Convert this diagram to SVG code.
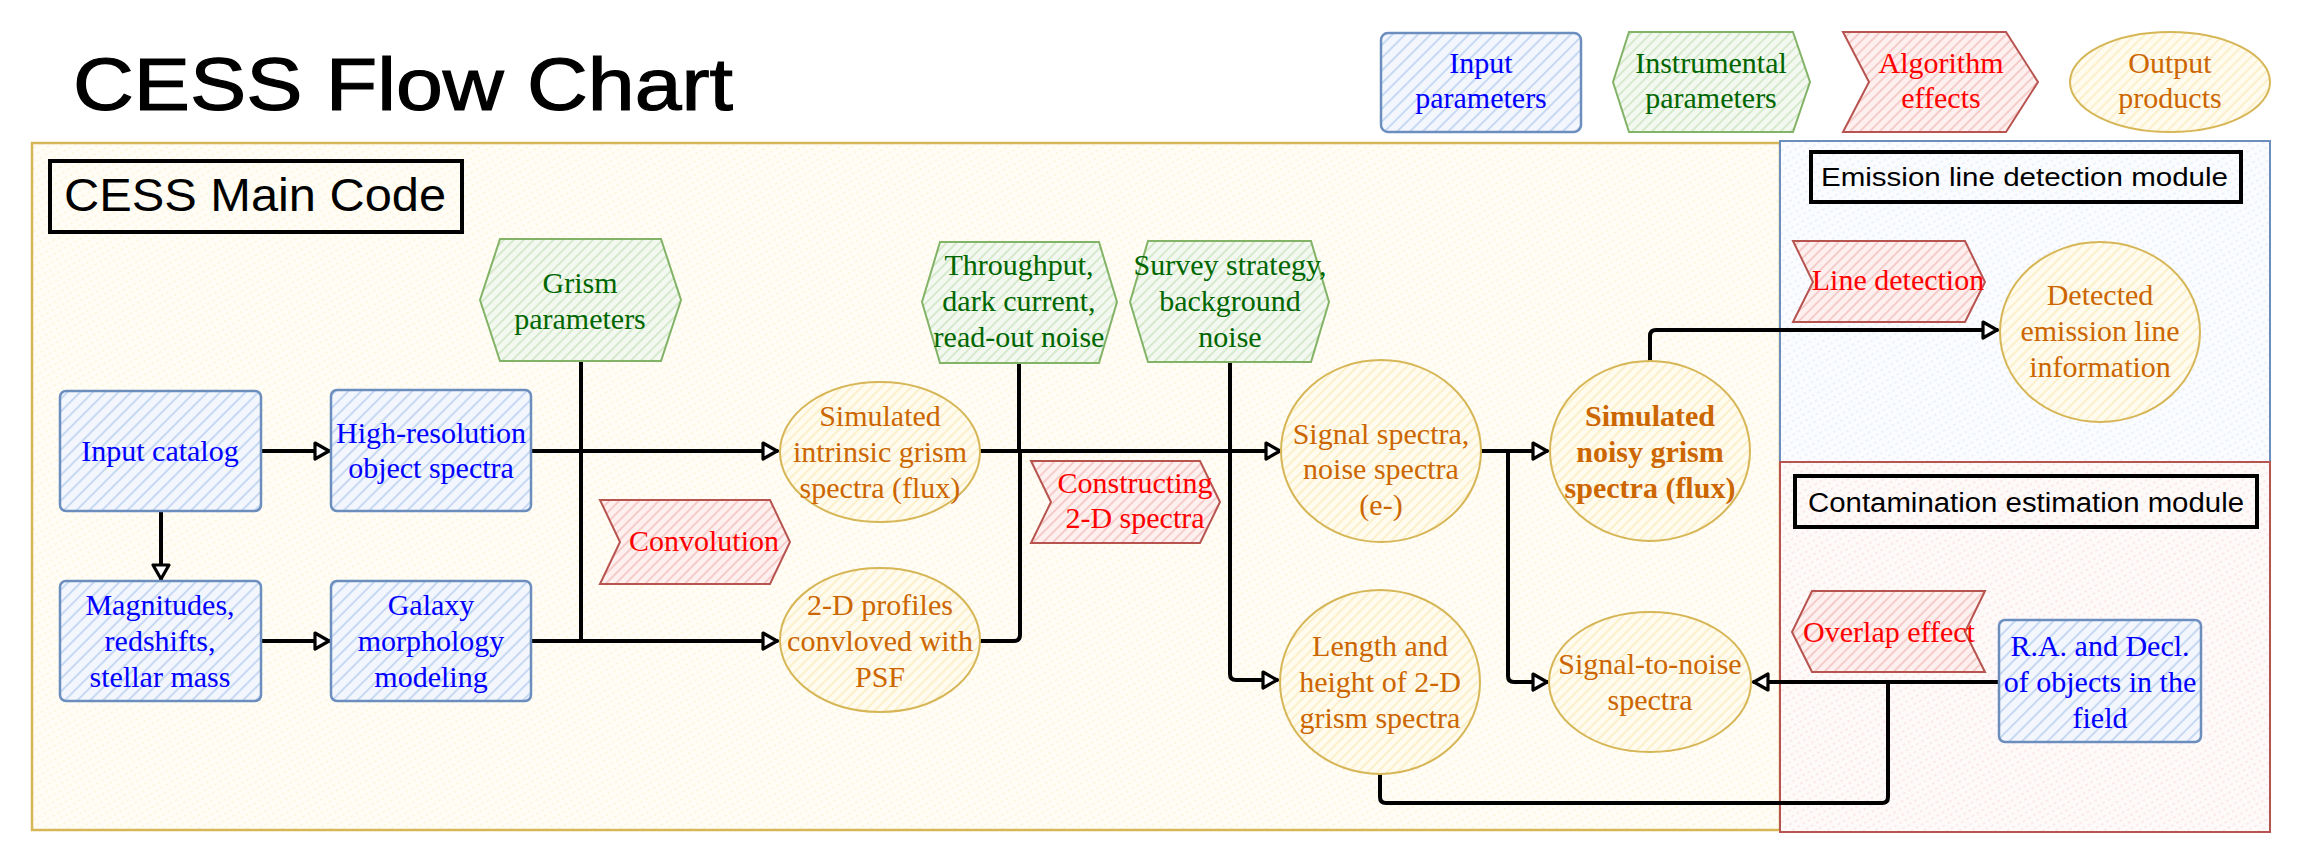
<svg xmlns="http://www.w3.org/2000/svg" width="2302" height="862" viewBox="0 0 2302 862">
<defs>
<style>
.t{font-family:"Liberation Serif","Times New Roman",serif;font-size:30px;text-anchor:middle}
.tb{fill:#0000ff}.tg{fill:#006600}.tr{fill:#ff0000}.to{fill:#cc6600}
.bold{font-weight:bold}
.hand{font-family:"Liberation Sans",Arial,sans-serif;fill:#000}
.nb{fill:url(#hB);stroke:#6c8ebf;stroke-width:2.5}
.ng{fill:url(#hG);stroke:#82b366;stroke-width:2}
.nr{fill:url(#hR);stroke:#b85450;stroke-width:2}
.no{fill:url(#hO);stroke:#d6b656;stroke-width:2}
.lbl{fill:none;stroke:#000;stroke-width:4}
.c{fill:none;stroke:#000;stroke-width:4;stroke-linejoin:round;stroke-linecap:round}
.ca{marker-end:url(#arr)}
</style>
<pattern id="hB" width="9" height="9" patternUnits="userSpaceOnUse" patternTransform="rotate(45)"><rect width="9" height="9" fill="#f3f7fd"/><line x1="1" y1="0" x2="1" y2="9" stroke="#b3cbee" stroke-width="1.4"/></pattern>
<pattern id="hG" width="7" height="7" patternUnits="userSpaceOnUse" patternTransform="rotate(45)"><rect width="7" height="7" fill="#f3f9f1"/><line x1="1" y1="0" x2="1" y2="7" stroke="#c3dfb5" stroke-width="1.2"/></pattern>
<pattern id="hR" width="7" height="7" patternUnits="userSpaceOnUse" patternTransform="rotate(45)"><rect width="7" height="7" fill="#fdf0ef"/><line x1="1" y1="0" x2="1" y2="7" stroke="#f2b4b1" stroke-width="1.2"/></pattern>
<pattern id="hO" width="7" height="7" patternUnits="userSpaceOnUse" patternTransform="rotate(45)"><rect width="7" height="7" fill="#fffbee"/><line x1="1" y1="0" x2="1" y2="7" stroke="#fbe9b4" stroke-width="1.2"/></pattern>
<pattern id="hY" width="6" height="6" patternUnits="userSpaceOnUse" patternTransform="rotate(60)"><rect width="6" height="6" fill="#fffdf5"/><line x1="1" y1="0" x2="1" y2="3" stroke="#fbf0cf" stroke-width="1"/></pattern>
<pattern id="hBl" width="6" height="6" patternUnits="userSpaceOnUse" patternTransform="rotate(60)"><rect width="6" height="6" fill="#fbfcff"/><line x1="1" y1="0" x2="1" y2="3" stroke="#dfe8f6" stroke-width="1"/></pattern>
<pattern id="hRl" width="6" height="6" patternUnits="userSpaceOnUse" patternTransform="rotate(60)"><rect width="6" height="6" fill="#fffafa"/><line x1="1" y1="0" x2="1" y2="3" stroke="#f6dcdb" stroke-width="1"/></pattern>
<marker id="arr" markerUnits="userSpaceOnUse" markerWidth="24" markerHeight="24" refX="18" refY="12" orient="auto"><path d="M4,4 L18,12 L4,20 Z" fill="#fff" stroke="#000" stroke-width="3.2" stroke-linejoin="round"/></marker>
</defs>
<rect width="2302" height="862" fill="#ffffff"/>

<!-- Title -->
<g id="title"><text class="hand" x="73" y="110" font-size="74" textLength="660" lengthAdjust="spacingAndGlyphs" stroke="#000" stroke-width="1.2">CESS Flow Chart</text></g>

<!-- Legend -->
<g id="legend-input"><rect class="nb" x="1381" y="33" width="200" height="99" rx="7"/><text class="t tb" x="1481" y="73">Input</text><text class="t tb" x="1481" y="108">parameters</text></g>
<g id="legend-instrumental"><polygon class="ng" points="1629,32 1793,32 1810,82 1793,132 1629,132 1613,82"/><text class="t tg" x="1711" y="73">Instrumental</text><text class="t tg" x="1711" y="108">parameters</text></g>
<g id="legend-algorithm"><polygon class="nr" points="1843,32 2006,32 2038,82 2006,132 1843,132 1869,82"/><text class="t tr" x="1941" y="73">Algorithm</text><text class="t tr" x="1941" y="108">effects</text></g>
<g id="legend-output"><ellipse class="no" cx="2170" cy="82" rx="100" ry="50"/><text class="t to" x="2170" y="73">Output</text><text class="t to" x="2170" y="108">products</text></g>

<!-- Containers -->
<g id="main-container"><rect x="32" y="143" width="1748" height="687" fill="url(#hY)" stroke="#d6b656" stroke-width="2.5"/></g>
<g id="emission-module"><rect x="1780" y="141" width="490" height="321" fill="url(#hBl)" stroke="#6c8ebf" stroke-width="2"/></g>
<g id="contamination-module"><rect x="1780" y="462" width="490" height="370" fill="url(#hRl)" stroke="#b85450" stroke-width="2"/></g>

<g id="label-main"><rect class="lbl" x="50" y="161" width="412" height="71" fill="#fffdf5"/><text class="hand" x="64" y="211" font-size="46" textLength="382" lengthAdjust="spacingAndGlyphs">CESS Main Code</text></g>
<g id="label-emission"><rect class="lbl" x="1811" y="152" width="430" height="50" fill="#fbfcff"/><text class="hand" x="1821" y="186" font-size="26" textLength="407" lengthAdjust="spacingAndGlyphs">Emission line detection module</text></g>
<g id="label-contamination"><rect class="lbl" x="1795" y="476" width="462" height="51" fill="#fffafa"/><text class="hand" x="1808" y="512" font-size="27" textLength="436" lengthAdjust="spacingAndGlyphs">Contamination estimation module</text></g>

<!-- Connectors -->
<g id="connectors">
<path class="c ca" d="M261,451 H329"/>
<path class="c ca" d="M161,511 V579"/>
<path class="c ca" d="M261,641 H329"/>
<path class="c" d="M581,361 V641"/>
<path class="c ca" d="M531,451 H777"/>
<path class="c ca" d="M531,641 H777"/>
<path class="c ca" d="M981,451 H1280"/>
<path class="c" d="M1019,363 V451"/>
<path class="c" d="M979,641 H1014 Q1020,641 1020,635 V451"/>
<path class="c ca" d="M1230,362 V674 Q1230,680 1236,680 H1277"/>
<path class="c ca" d="M1481,451 H1547"/>
<path class="c ca" d="M1508,451 V676 Q1508,682 1514,682 H1547"/>
<path class="c ca" d="M1650,361 V336 Q1650,330 1656,330 H1997"/>
<path class="c ca" d="M1999,682 H1754"/>
<path class="c" d="M1380,775 V797 Q1380,803 1386,803 H1882 Q1888,803 1888,797 V682"/>
</g>

<!-- Nodes -->
<g id="input-catalog"><rect class="nb" x="60" y="391" width="201" height="120" rx="6"/><text class="t tb" x="160" y="461">Input catalog</text></g>
<g id="high-res-spectra"><rect class="nb" x="331" y="390" width="200" height="121" rx="6"/><text class="t tb" x="431" y="443">High-resolution</text><text class="t tb" x="431" y="478">object spectra</text></g>
<g id="magnitudes"><rect class="nb" x="60" y="581" width="201" height="120" rx="6"/><text class="t tb" x="160" y="615">Magnitudes,</text><text class="t tb" x="160" y="651">redshifts,</text><text class="t tb" x="160" y="687">stellar mass</text></g>
<g id="galaxy-morphology"><rect class="nb" x="331" y="581" width="200" height="120" rx="6"/><text class="t tb" x="431" y="615">Galaxy</text><text class="t tb" x="431" y="651">morphology</text><text class="t tb" x="431" y="687">modeling</text></g>
<g id="grism-parameters"><polygon class="ng" points="500,239 661,239 681,300 661,361 500,361 480,300"/><text class="t tg" x="580" y="293">Grism</text><text class="t tg" x="580" y="329">parameters</text></g>
<g id="convolution"><polygon class="nr" points="600,500 770,500 790,542 770,584 600,584 620,542"/><text class="t tr" x="704" y="551" font-size="28">Convolution</text></g>
<g id="sim-intrinsic"><ellipse class="no" cx="880" cy="452" rx="100" ry="70"/><text class="t to" x="880" y="426">Simulated</text><text class="t to" x="880" y="462">intrinsic grism</text><text class="t to" x="880" y="498">spectra (flux)</text></g>
<g id="profiles-2d"><ellipse class="no" cx="880" cy="640" rx="100" ry="72"/><text class="t to" x="880" y="615">2-D profiles</text><text class="t to" x="880" y="651">convloved with</text><text class="t to" x="880" y="687">PSF</text></g>
<g id="throughput"><polygon class="ng" points="940,242 1099,242 1117,302 1099,363 940,363 922,302"/><text class="t tg" x="1019" y="275">Throughput,</text><text class="t tg" x="1019" y="311">dark current,</text><text class="t tg" x="1019" y="347">read-out noise</text></g>
<g id="survey-strategy"><polygon class="ng" points="1148,241 1311,241 1329,302 1311,362 1148,362 1130,302"/><text class="t tg" x="1230" y="275">Survey strategy,</text><text class="t tg" x="1230" y="311">background</text><text class="t tg" x="1230" y="347">noise</text></g>
<g id="constructing-2d"><polygon class="nr" points="1031,461 1200,461 1220,502 1200,543 1031,543 1051,502"/><text class="t tr" x="1135" y="493" font-size="28">Constructing</text><text class="t tr" x="1135" y="528" font-size="28">2-D spectra</text></g>
<g id="signal-noise-spectra"><ellipse class="no" cx="1381" cy="451" rx="100" ry="91"/><text class="t to" x="1381" y="444">Signal spectra,</text><text class="t to" x="1381" y="479">noise spectra</text><text class="t to" x="1381" y="515">(e-)</text></g>
<g id="length-height"><ellipse class="no" cx="1380" cy="682" rx="100" ry="92"/><text class="t to" x="1380" y="656">Length and</text><text class="t to" x="1380" y="692">height of 2-D</text><text class="t to" x="1380" y="728">grism spectra</text></g>
<g id="noisy-grism"><ellipse class="no" cx="1650" cy="451" rx="100" ry="90"/><text class="t to bold" x="1650" y="426">Simulated</text><text class="t to bold" x="1650" y="462">noisy grism</text><text class="t to bold" x="1650" y="498">spectra (flux)</text></g>
<g id="signal-to-noise"><ellipse class="no" cx="1650" cy="682" rx="101" ry="70"/><text class="t to" x="1650" y="674">Signal-to-noise</text><text class="t to" x="1650" y="710">spectra</text></g>
<g id="line-detection"><polygon class="nr" points="1793,241 1965,241 1985,282 1965,322 1793,322 1813,282"/><text class="t tr" x="1898" y="290" font-size="25">Line detection</text></g>
<g id="detected-emission"><ellipse class="no" cx="2100" cy="332" rx="100" ry="90"/><text class="t to" x="2100" y="305">Detected</text><text class="t to" x="2100" y="341">emission line</text><text class="t to" x="2100" y="377">information</text></g>
<g id="overlap-effect"><polygon class="nr" points="1812,591 1985,591 1965,632 1985,672 1812,672 1792,632"/><text class="t tr" x="1889" y="642" font-size="25">Overlap effect</text></g>
<g id="ra-decl"><rect class="nb" x="1999" y="620" width="202" height="122" rx="6"/><text class="t tb" x="2100" y="656">R.A. and Decl.</text><text class="t tb" x="2100" y="692">of objects in the</text><text class="t tb" x="2100" y="728">field</text></g>
</svg>
